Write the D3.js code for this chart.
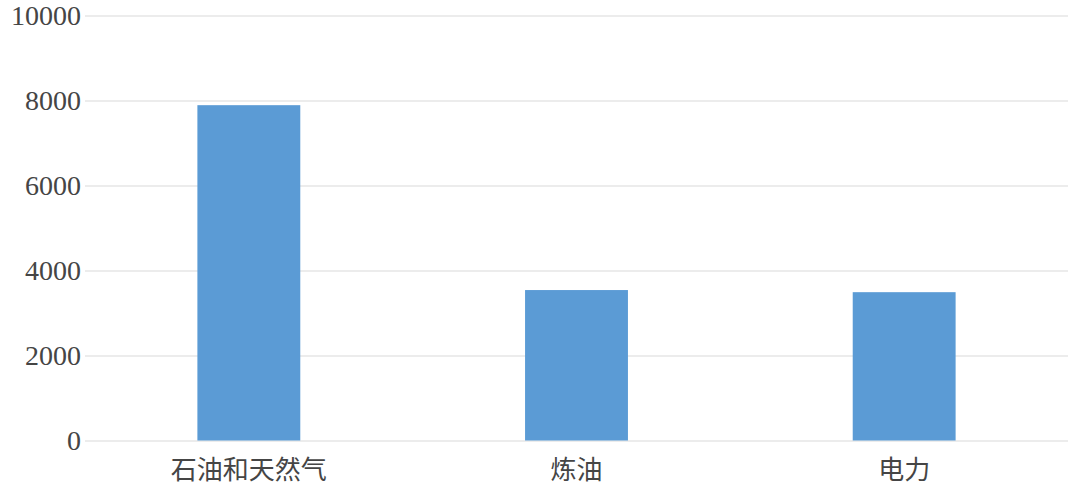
<!DOCTYPE html>
<html>
<head>
<meta charset="utf-8">
<script src="https://cdn.jsdelivr.net/npm/d3@7"></script>
<style>
  body { margin: 0; background: #fff; }
  svg text { font-family: "Liberation Serif", "Noto Sans CJK SC", serif; fill: #454545; }
</style>
</head>
<body>
<svg id="chart" width="1085" height="492"></svg>
<script>
// data
const categories = ["石油和天然气", "炼油", "电力"];
const values = [7890, 3540, 3490];
const yTicks = [0, 2000, 4000, 6000, 8000, 10000];

const svg = d3.select("#chart"),
      margin = { top: 15.5, right: 17, bottom: 51.5, left: 85 },
      width = +svg.attr("width") - margin.left - margin.right,
      height = +svg.attr("height") - margin.top - margin.bottom,
      g = svg.append("g").attr("transform", `translate(${margin.left},${margin.top})`);

const x = d3.scaleBand().domain(categories).range([0, width]).padding(0);
const y = d3.scaleLinear().domain([0, 10000]).range([height, 0]);
const barW = x.bandwidth() * 0.314;

// gridlines
g.append("g")
  .selectAll("line")
  .data(yTicks)
  .enter().append("line")
  .attr("x1", 0)
  .attr("x2", width)
  .attr("y1", d => Math.round(y(d)) + 0.5)
  .attr("y2", d => Math.round(y(d)) + 0.5)
  .attr("stroke", "#d9d9d9")
  .attr("stroke-width", 1);

// y axis labels
const yAxis = g.append("g")
  .call(d3.axisLeft(y).tickValues(yTicks).tickSize(0).tickPadding(4).tickFormat(d3.format("d")));
yAxis.select(".domain").remove();
yAxis.selectAll("text")
  .style("font-size", "28px")
  .attr("dy", "0.32em");

// bars
g.selectAll("rect")
  .data(values)
  .enter().append("rect")
  .attr("x", (d, i) => x(categories[i]) + (x.bandwidth() - barW) / 2)
  .attr("width", barW)
  .attr("y", d => y(d))
  .attr("height", d => height - y(d))
  .attr("fill", "#5b9bd5");

// x axis labels
const xAxis = g.append("g")
  .attr("transform", `translate(0,${height})`)
  .call(d3.axisBottom(x).tickSize(0).tickPadding(20));
xAxis.select(".domain").remove();
xAxis.selectAll("text")
  .style("font-size", "26px");
</script>
</body>
</html>
